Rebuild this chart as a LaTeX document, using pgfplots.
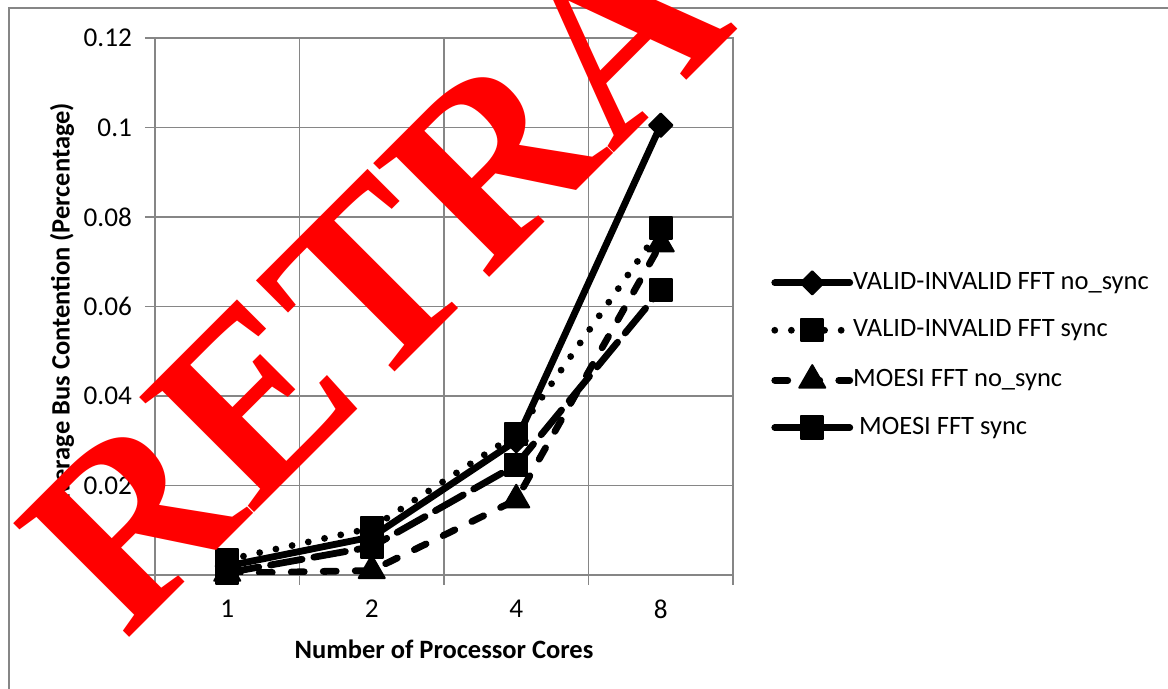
\documentclass[border=0pt]{standalone}
\usepackage{pgfplots}
\pgfplotsset{compat=1.18}
\usepackage{fontspec}
\setmainfont{Carlito}
\newfontfamily\wmfont{Liberation Serif}
\definecolor{gridgray}{HTML}{868686}
\begin{document}
\begin{tikzpicture}[x=0.5pt,y=0.5pt]
\useasboundingbox (0,0) rectangle (1168,689);
\draw[gridgray, line width=0.75pt] (9,-11) -- (9,681) -- (1180,681);
\begin{axis}[
  at={(77.5pt,57pt)}, anchor=south west,
  width=289pt, height=268.5pt, scale only axis,
  xmin=0, xmax=4, ymin=0, ymax=0.12,
  xtick={0,1,2,3,4}, xticklabels={1,2,4,8,{}},
  xticklabel style={xshift=36.125pt, yshift=-4pt},
  yticklabel style={xshift=-3pt},
  ytick={0,0.02,0.04,0.06,0.08,0.1,0.12},
  yticklabels={0,0.02,0.04,0.06,0.08,0.1,0.12},
  grid=major,
  grid style={gridgray, line width=0.75pt},
  axis line style={gridgray, line width=0.75pt},
  tick style={gridgray, line width=0.75pt},
  tick align=outside, major tick length=5pt,
  xtick pos=bottom, ytick pos=left,
  /pgf/number format/assume math mode=true,
  ticklabel style={font=\fontsize{13.6}{16}\selectfont, text=black},
  label style={font=\bfseries\fontsize{13.25}{16}\selectfont},
  xlabel={Number of Processor Cores},
  ylabel={Average Bus Contention (Percentage)},
  xlabel style={at={(axis description cs:0.5,-0.1378)}, anchor=center},
  ylabel style={at={(axis description cs:-0.161,0.5)}, anchor=center},
  legend style={at={(1.0657,0.568)}, anchor=north west, draw=none, fill=none,
    inner sep=0pt, row sep=11.2pt,
    font=\fontsize{13.25}{16}\selectfont,
    nodes={inner xsep=0pt, inner ysep=0pt, text height=9.5pt, text depth=3pt}},
  legend cell align=left,
  legend image code/.code={\draw[mark repeat=2,mark phase=2,#1] plot coordinates {(0pt,0pt)(18.75pt,0pt)(37.5pt,0pt)};},
  every axis plot/.append style={line width=3.4pt, line cap=round, line join=round, black},
]
\addplot[solid, mark=square*, mark size=4.1pt, mark options={solid, rotate=45, line width=1pt}]
  coordinates {(0.5,0.0020) (1.5,0.0085) (2.5,0.0300) (3.5,0.1005)};
\addlegendentry{VALID-INVALID FFT no\_sync}
\addplot[dash pattern=on 0pt off 8.3pt, mark=square*, mark size=5.6pt, mark options={solid, line width=1pt}]
  coordinates {(0.5,0.0034) (1.5,0.0105) (2.5,0.0315) (3.5,0.0775)};
\addlegendentry{VALID-INVALID FFT sync}
\addplot[dash pattern=on 6.5pt off 9.5pt, mark=triangle*, mark size=7.5pt, mark options={solid, line width=1pt}]
  coordinates {(0.5,0.0004) (1.5,0.0010) (2.5,0.0168) (3.5,0.0740)};
\addlegendentry{MOESI FFT no\_sync}
\addplot[dash pattern=on 16pt off 6pt, mark=square*, mark size=5.6pt, mark options={solid, line width=1pt}]
  coordinates {(0.5,0.0005) (1.5,0.0063) (2.5,0.0246) (3.5,0.0637)};
\addlegendentry{\hspace{3pt}MOESI FFT sync}
\end{axis}
\node[text=red, font=\wmfont\bfseries\fontsize{124}{124}\selectfont, rotate=45, anchor=base west, inner sep=0pt] at (125,47) {RETRACTED};
\end{tikzpicture}
\end{document}
